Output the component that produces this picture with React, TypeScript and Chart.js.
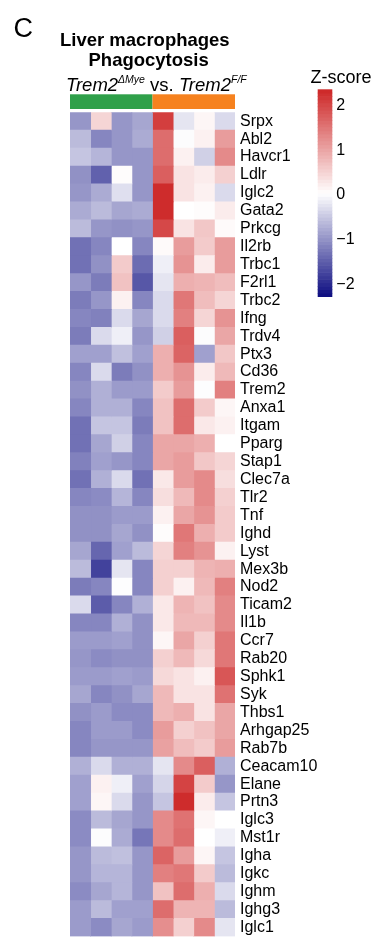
import React, { useEffect, useRef } from 'react';
import { Chart, registerables } from 'chart.js';

Chart.register(...registerables);

const FONT = "'Liberation Sans', Arial, Helvetica, sans-serif";

const genes = [
  'Srpx', 'Abl2', 'Havcr1', 'Ldlr', 'Iglc2', 'Gata2', 'Prkcg', 'Il2rb', 'Trbc1', 'F2rl1',
  'Trbc2', 'Ifng', 'Trdv4', 'Ptx3', 'Cd36', 'Trem2', 'Anxa1', 'Itgam', 'Pparg', 'Stap1',
  'Clec7a', 'Tlr2', 'Tnf', 'Ighd', 'Lyst', 'Mex3b', 'Nod2', 'Ticam2', 'Il1b', 'Ccr7',
  'Rab20', 'Sphk1', 'Syk', 'Thbs1', 'Arhgap25', 'Rab7b', 'Ceacam10', 'Elane', 'Prtn3', 'Iglc3',
  'Mst1r', 'Igha', 'Igkc', 'Ighm', 'Ighg3', 'Iglc1',
];

// Z-scores per sample (columns), rows in gene order
const mye1 = [-0.95, -0.6, -0.5, -1.0, -0.95, -0.75, -0.6, -1.3, -1.3, -0.95, -1.2, -1.1, -1.2, -0.85, -1.1, -1.0, -1.1, -1.3, -1.3, -1.15, -1.3, -1.1, -1.0, -1.0, -0.8, -0.6, -1.2, -0.3, -1.1, -0.9, -0.95, -0.9, -0.8, -1.0, -1.1, -1.1, -0.7, -0.85, -0.85, -1.05, -1.05, -0.95, -0.95, -1.05, -0.9, -0.9];
const mye2 = [0.5, -1.1, -0.65, -1.45, -0.75, -0.6, -0.95, -1.1, -1.0, -1.2, -0.95, -1.15, -0.3, -0.85, -0.3, -0.7, -0.7, -0.5, -0.8, -0.85, -0.7, -1.05, -1.0, -1.0, -1.4, -1.75, -1.1, -1.5, -1.1, -0.9, -1.05, -0.9, -1.1, -0.9, -0.9, -0.95, -0.3, 0.2, 0.15, -0.6, 0.02, -0.6, -0.65, -0.8, -0.6, -1.05];
const mye3 = [-0.95, -0.95, -0.95, 0.08, -0.25, -0.8, -1.0, 0.05, 0.6, 0.7, 0.2, -0.3, -0.1, -0.55, -1.2, -0.9, -0.7, -0.5, -0.4, -0.95, -0.3, -0.65, -0.9, -0.8, -0.85, -0.2, 0.03, -1.1, -0.7, -0.85, -1.0, -0.85, -1.0, -1.05, -0.9, -0.95, -0.7, -0.1, -0.3, -0.8, -0.75, -0.55, -0.65, -0.65, -0.85, -0.8];
const mye4 = [-0.8, -0.75, -0.95, -0.95, -0.95, -0.75, -0.95, -1.1, -1.35, -1.55, -1.1, -0.8, -0.95, -0.85, -1.0, -0.9, -1.1, -1.2, -1.1, -1.1, -1.3, -1.1, -0.9, -1.0, -0.6, -1.1, -1.1, -0.7, -1.0, -1.0, -1.0, -0.9, -0.8, -1.05, -1.05, -0.95, -0.7, -0.85, -0.95, -0.95, -1.25, -0.95, -0.95, -0.95, -0.85, -0.9];
const ff1 = [2.1, 1.6, 1.6, 1.75, 2.3, 2.3, 2.0, 0.1, -0.1, -0.2, -0.3, -0.3, -0.4, 0.9, 0.9, 0.6, 0.7, 0.7, 1.0, 1.0, 0.3, 0.4, 0.2, 0.08, 0.5, 0.55, 0.55, 0.3, 0.3, 0.15, 0.55, 0.45, 0.8, 0.8, 1.1, 1.05, -0.2, -0.35, -0.5, 1.3, 1.3, 1.7, 1.4, 0.7, 1.6, 1.25];
const ff2 = [-0.2, 0.02, 0.2, 0.35, 0.35, 0.05, 0.35, 1.1, 1.2, 0.9, 1.5, 1.4, 1.75, 1.7, 1.2, 1.1, 1.6, 1.6, 1.0, 1.1, 1.1, 0.8, 1.0, 1.5, 1.4, 0.55, 0.2, 0.85, 0.8, 1.0, 0.8, 0.35, 0.35, 0.9, 0.55, 0.75, 1.3, 2.05, 2.3, 1.55, 1.6, 1.1, 1.5, 1.6, 0.85, 0.55];
const ff3 = [0.15, 0.2, -0.4, 0.25, 0.2, 0.08, 0.65, 0.6, 0.25, 0.85, 0.75, 0.5, 0.02, -0.85, 0.25, 0.03, 0.6, 0.3, 0.9, 0.65, 1.3, 1.3, 1.2, 0.9, 1.2, 0.85, 0.8, 0.7, 0.8, 0.55, 0.45, 0.2, 0.35, 0.35, 0.7, 0.6, 1.75, 0.6, 0.25, 0.15, 0.05, 0.15, 0.6, 0.9, 0.85, 1.3];
const ff4 = [-0.3, 1.1, 1.3, 0.55, -0.3, 0.25, 0.1, 1.1, 1.1, 0.75, 0.5, 1.2, 1.0, 0.65, 0.8, 1.4, 0.15, 0.2, 0.05, 0.5, 0.4, 0.55, 0.6, 0.6, 0.2, 0.9, 1.4, 1.3, 1.3, 1.5, 1.5, 1.85, 1.55, 1.0, 1.0, 1.1, -0.7, -0.95, -0.5, 0.05, -0.1, -0.5, -0.6, -0.3, -0.6, -0.2];

const sampleNames = ['ΔMye 1', 'ΔMye 2', 'ΔMye 3', 'ΔMye 4', 'F/F 1', 'F/F 2', 'F/F 3', 'F/F 4'];
const sampleGroup = [0, 0, 0, 0, 1, 1, 1, 1];
const groupNames = ['Trem2ΔMye', 'Trem2F/F'];
const colorbarTicks = [-2, -1, 0, 1, 2];
const zMin = -2.26;
const zMax = 2.36;

const columns = [mye1, mye2, mye3, mye4, ff1, ff2, ff3, ff4];
const GROUP_COLORS = ['#2fa04a', '#f6821f'];
const LOW = [12, 12, 128];
const MIDC = [255, 255, 255];
const HIGH = [205, 38, 38];

function zColor(v: number): string {
  const mid = (zMin + zMax) / 2;
  let a: number[], b: number[], t: number;
  if (v < mid) {
    t = Math.min(1, (mid - v) / (mid - zMin));
    a = MIDC; b = LOW;
  } else {
    t = Math.min(1, (v - mid) / (zMax - mid));
    a = MIDC; b = HIGH;
  }
  const c = a.map((x, i) => Math.round(x + (b[i] - x) * t));
  return `rgb(${c[0]},${c[1]},${c[2]})`;
}

const annotationPlugin = {
  id: 'annotBar',
  afterDatasetsDraw(chart: any) {
    const x = chart.scales.x;
    const ctx = chart.ctx;
    const top = chart.chartArea.top - 18;
    const h = 14.7;
    ctx.save();
    groupNames.forEach((_, g) => {
      const idx = sampleGroup.map((sg, i) => (sg === g ? i : -1)).filter((i) => i >= 0);
      const x0 = x.getPixelForValue(Math.min(...idx));
      const x1 = x.getPixelForValue(Math.max(...idx) + 1);
      ctx.fillStyle = GROUP_COLORS[g];
      ctx.fillRect(x0, top, x1 - x0, h);
    });
    ctx.restore();
  },
};

const colorbarPlugin = {
  id: 'colorbarFill',
  beforeDatasetsDraw(chart: any) {
    const y = chart.scales.y;
    const { left, right } = chart.chartArea;
    const ctx = chart.ctx;
    const steps = 60;
    ctx.save();
    for (let i = 0; i < steps; i++) {
      const v0 = zMin + ((zMax - zMin) * i) / steps;
      const v1 = zMin + ((zMax - zMin) * (i + 1)) / steps;
      const p0 = y.getPixelForValue(v0);
      const p1 = y.getPixelForValue(v1);
      ctx.fillStyle = zColor((v0 + v1) / 2);
      ctx.fillRect(left, p1, right - left, p0 - p1 + 0.6);
    }
    ctx.restore();
  },
};

function Txt(props: { x: number; base: number; size: number; bold?: boolean; italic?: boolean; children: any }) {
  const { x, base, size, bold, italic, children } = props;
  return (
    <div
      style={{
        position: 'absolute',
        left: x,
        top: base - 0.8465 * size,
        fontSize: size,
        lineHeight: `${size}px`,
        fontWeight: bold ? 700 : 400,
        fontStyle: italic ? 'italic' : 'normal',
        whiteSpace: 'nowrap',
        fontFamily: FONT,
        color: '#000',
      }}
    >
      {children}
    </div>
  );
}

const supStyle: any = { fontSize: 10.5, verticalAlign: '8.4px', lineHeight: 0, fontStyle: 'italic' };

export default function App() {
  const heatRef = useRef<HTMLCanvasElement>(null);
  const barRef = useRef<HTMLCanvasElement>(null);

  useEffect(() => {
    Chart.defaults.font.family = FONT;
    const heat = new Chart(heatRef.current as HTMLCanvasElement, {
      type: 'bar',
      data: {
        labels: genes,
        datasets: columns.map((col, i) => ({
          label: sampleNames[i],
          data: genes.map(() => [i, i + 1]) as any,
          backgroundColor: col.map(zColor),
          borderWidth: 0,
          barPercentage: 1,
          categoryPercentage: 1,
          grouped: false,
          inflateAmount: 0.4,
        })),
      },
      options: {
        indexAxis: 'y',
        animation: false,
        responsive: false,
        events: [],
        layout: { padding: { left: 70, top: 112.3, right: 0, bottom: 1.5 } },
        plugins: { legend: { display: false }, tooltip: { enabled: false }, title: { display: false } },
        scales: {
          x: { type: 'linear', min: 0, max: columns.length, display: false },
          y: {
            type: 'category',
            position: 'right',
            grid: { display: false, drawTicks: false },
            border: { display: false },
            ticks: { autoSkip: false, padding: 5, color: '#000', font: { size: 16, family: FONT } },
            afterFit: (s: any) => {
              s.width = 149;
            },
          },
        },
      } as any,
      plugins: [annotationPlugin],
    });

    const bar = new Chart(barRef.current as HTMLCanvasElement, {
      type: 'bar',
      data: { labels: ['z'], datasets: [] },
      options: {
        animation: false,
        responsive: false,
        events: [],
        layout: { padding: { left: 17.7, top: 19.3, right: 0, bottom: 10 } },
        plugins: { legend: { display: false }, tooltip: { enabled: false } },
        scales: {
          x: { type: 'category', display: false },
          y: {
            type: 'linear',
            position: 'right',
            min: zMin,
            max: zMax,
            grid: { display: false, drawTicks: false },
            border: { display: false },
            afterBuildTicks: (s: any) => {
              s.ticks = colorbarTicks.map((v) => ({ value: v }));
            },
            ticks: {
              padding: 4,
              color: '#000',
              font: { size: 16, family: FONT },
              callback: (v: any) => (Number(v) < 0 ? '\u2212' + Math.abs(Number(v)) : String(v)),
            },
            afterFit: (s: any) => {
              s.width = 51.7;
            },
          },
        },
      } as any,
      plugins: [colorbarPlugin],
    });

    return () => {
      heat.destroy();
      bar.destroy();
    };
  }, []);

  return (
    <div style={{ position: 'fixed', left: 0, top: 0, width: 384, height: 951, background: '#fff', overflow: 'hidden' }}>
      <canvas ref={heatRef} width={384} height={951} style={{ position: 'absolute', left: 0, top: 0, display: 'block' }} />
      <canvas ref={barRef} width={84} height={240} style={{ position: 'absolute', left: 300, top: 70, display: 'block' }} />
      <Txt x={13.5} base={37.7} size={27}>C</Txt>
      <Txt x={60} base={46.7} size={18.5} bold>Liver macrophages</Txt>
      <Txt x={88.5} base={66.7} size={18.5} bold>Phagocytosis</Txt>
      <Txt x={66} base={91.7} size={18.5}>
        <i>Trem2</i>
        <span style={supStyle}>ΔMye</span>
        <span> vs. </span>
        <i>Trem2</i>
        <span style={supStyle}>F/F</span>
      </Txt>
      <Txt x={310.5} base={83} size={18}>Z-score</Txt>
    </div>
  );
}
